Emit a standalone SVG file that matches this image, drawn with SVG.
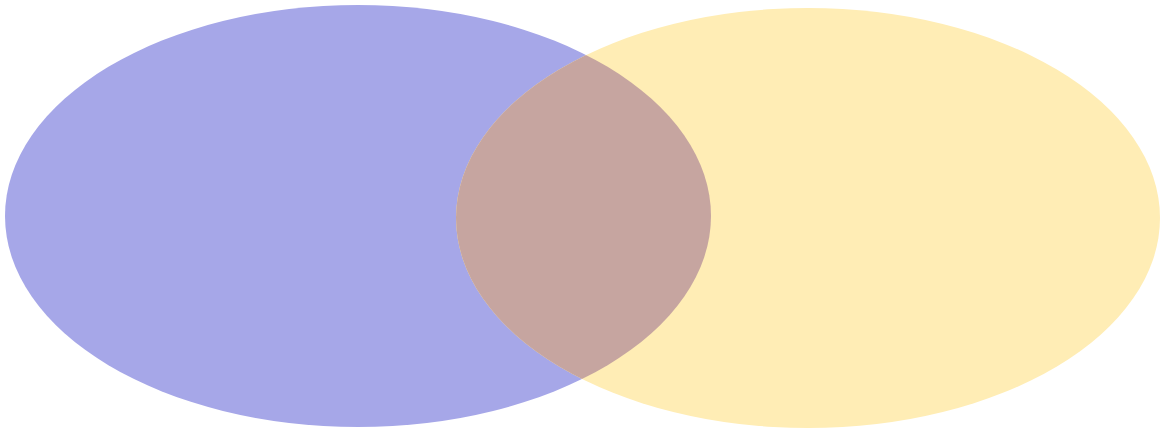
<svg xmlns="http://www.w3.org/2000/svg" width="1164" height="432" viewBox="0 0 1164 432">
<defs>
<style>
.a{fill:#A6A7E8}
.b{fill:#FFEDB5}
.ab{fill:#C6A5A0}
</style>
<clipPath id="clipB"><ellipse cx="808" cy="218" rx="352" ry="210"/></clipPath>
</defs>
<rect width="1164" height="432" fill="#FFFFFF"/>
<g id="setA"><ellipse class="a" cx="358" cy="216" rx="353" ry="211"/></g>
<g id="setB"><ellipse class="b" cx="808" cy="218" rx="352" ry="210"/></g>
<g id="overlap"><ellipse class="ab" cx="358" cy="216" rx="353" ry="211" clip-path="url(#clipB)"/></g>
<g id="connectors"></g>
</svg>
